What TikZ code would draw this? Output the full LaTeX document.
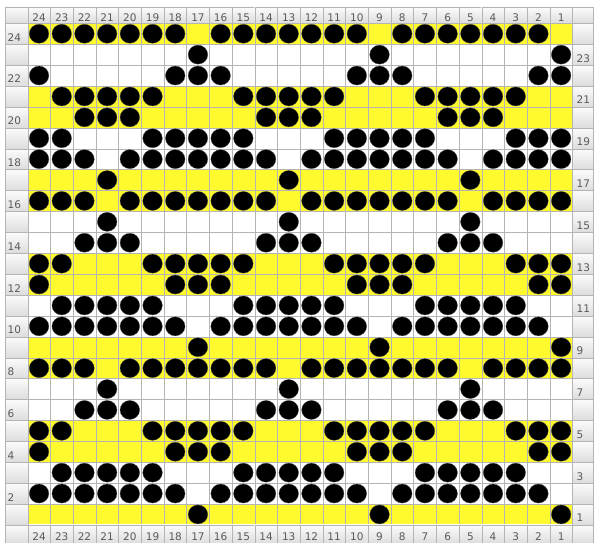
\documentclass[tikz,border=0pt]{standalone}
\usepackage{fontspec}
\setmainfont{DejaVu Sans}
\definecolor{chartyellow}{RGB}{255,250,45}
\definecolor{chartgrid}{RGB}{180,180,180}
\definecolor{lblgray}{RGB}{90,90,90}
\tikzset{
  stitch/.style={fill=black,draw=black!70,line width=0.3pt},
  lblcell/.style={draw=chartgrid,top color=gray!3,bottom color=gray!27},
  lbltext/.style={font=\fontsize{10.5}{10.5}\selectfont,text=lblgray,inner sep=0pt}
}

\begin{document}
\begin{tikzpicture}[x=1pt,y=-1pt]
\useasboundingbox (0,0) rectangle (595,543);
% yellow rows
\foreach \r in {24,21,20,17,16,13,12,9,8,5,4,1}
  \fill[chartyellow] (27.7,{23.3+(24-\r)*20.9}) rectangle (572.5,{23.3+(25-\r)*20.9});
% grid
\foreach \i in {0,...,24}
  \draw[chartgrid] ({27.7+\i*22.7},23.3) -- ({27.7+\i*22.7},524.9);
\foreach \j in {0,...,24}
  \draw[chartgrid] (27.7,{23.3+\j*20.9}) -- (572.5,{23.3+\j*20.9});
% column numbers, top and bottom
\foreach \i in {0,...,23} {
  \pgfmathtruncatemacro\c{24-\i}
  \draw[lblcell] ({27.7+\i*22.7},7) rectangle ++(22.7,16.3);
  \draw[lblcell] ({27.7+\i*22.7},524.9) rectangle ++(22.7,18.5);
  \node[lbltext,anchor=base] at ({27.7+(\i+0.5)*22.7},21.8) {\c};
  \node[lbltext,anchor=base] at ({27.7+(\i+0.5)*22.7},540.5) {\c};
}
% corners
\draw[lblcell] (5,7) rectangle (27.7,23.3);
\draw[lblcell] (572.5,7) rectangle (593,23.3);
\draw[lblcell] (5,524.9) rectangle (27.7,543.4);
\draw[lblcell] (572.5,524.9) rectangle (593,543.4);
% row numbers: even on the left, odd on the right
\foreach \r in {1,...,24} {
  \draw[lblcell] (5,{23.3+(24-\r)*20.9}) rectangle ++(22.7,20.9);
  \draw[lblcell] (572.5,{23.3+(24-\r)*20.9}) rectangle ++(20.5,20.9);
  \ifodd\r
    \node[lbltext,anchor=base west] at (576.5,{23.3+(25-\r)*20.9-3}) {\r};
  \else
    \node[lbltext,anchor=base west] at (7.5,{23.3+(25-\r)*20.9-3}) {\r};
  \fi
}
% stitches, one repeat of 8 columns (0 = column 1)
\foreach \r/\ks in {24/{1,2,3,4,5,6,7}, 23/{0}, 22/{7,0,1}, 21/{2,3,4,5,6},
    20/{3,4,5}, 19/{6,7,0,1,2}, 18/{0,1,2,3,5,6,7}, 17/{4},
    16/{0,1,2,3,5,6,7}, 15/{4}, 14/{3,4,5}, 13/{6,7,0,1,2},
    12/{7,0,1}, 11/{2,3,4,5,6}, 10/{1,2,3,4,5,6,7}, 9/{0},
    8/{0,1,2,3,5,6,7}, 7/{4}, 6/{3,4,5}, 5/{6,7,0,1,2},
    4/{7,0,1}, 3/{2,3,4,5,6}, 2/{1,2,3,4,5,6,7}, 1/{0}}
  \foreach \k in \ks
    \foreach \m in {0,8,16}
      \fill[stitch] ({27.7+(23-\k-\m+0.5)*22.7},{23.3+(24-\r+0.5)*20.9})
        circle[x radius=9.8pt,y radius=9.5pt];
\end{tikzpicture}
\end{document}
